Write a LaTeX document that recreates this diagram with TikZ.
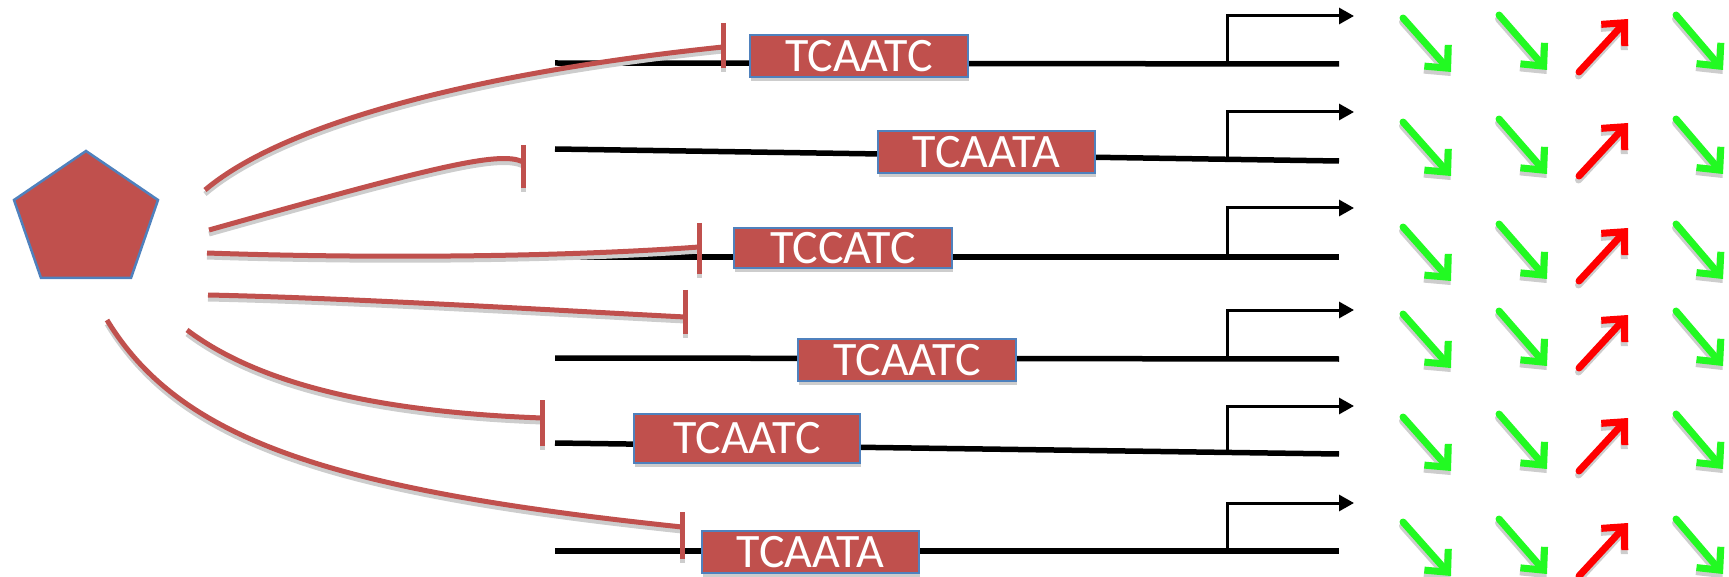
\documentclass[tikz,border=0pt]{standalone}
\usepackage{fontspec}
\newfontfamily\seqfont{Carlito}
\usetikzlibrary{arrows.meta,shadows,calc}

\definecolor{inhred}{RGB}{192,80,77}
\definecolor{edgeblue}{RGB}{79,129,189}
\definecolor{upred}{RGB}{255,0,0}
\definecolor{downgreen}{RGB}{34,250,34}
\definecolor{castgrey}{RGB}{205,205,205}

% one effect arrow: grey cast shadow first, then the coloured arrow
\newcommand\effectarrow[3]{%
  \draw[effect, castgrey, transform canvas={xshift=-0.5pt,yshift=-4pt}] #2 -- #3;
  \draw[effect, #1] #2 -- #3;}

\begin{document}
\begin{tikzpicture}[x=1pt,y=-1pt,
  dna/.style={line width=5.5pt, black},
  prom/.style={line width=3pt, black, -{Triangle[length=15pt,width=16pt]}},
  seqbox/.style={fill=inhred, draw=edgeblue, line width=2.2pt, text=white,
    font=\seqfont\fontsize{48}{52}\selectfont, inner sep=0pt, outer sep=0pt,
    minimum height=42pt, minimum width=218pt,
    drop shadow={shadow xshift=1pt, shadow yshift=-4pt, fill=castgrey, opacity=1}},
  inhib/.style={line width=5pt, inhred,
    preaction={draw=castgrey, line width=5pt, transform canvas={xshift=0pt,yshift=-4pt}}},
  effect/.style={line width=7pt, line cap=round,
    -{Straight Barb[length=17pt,width=32pt,line cap=butt]}}
]
\useasboundingbox (0,0) rectangle (1729,577);

% ---- regulator (pentagon) ----
\coordinate (reg) at (86,222);
\filldraw[fill=inhred, draw=edgeblue, line width=2.5pt, line join=miter]
  (86,151) -- (158,200) -- (131,278) -- (41,278) -- (14,200) -- cycle;

% ---- DNA strands: left end, right end, promoter foot, promoter tip ----
\foreach \i/\yl/\yr/\yp/\yt in {1/63/64/64/16, 2/149/161/159/112, 3/257/257/257/208,
                                  4/358/359/359/310, 5/443/454/452/406, 6/551/551/551/503}{
  \coordinate (L\i) at (555,\yl);
  \coordinate (R\i) at (1339,\yr);
  \coordinate (P\i) at (1227,\yp);
  \coordinate (A\i) at (1354,\yt);
  \draw[dna] (L\i) -- (R\i);
  \draw[prom] (P\i) |- (A\i);
}

% ---- repression curves from the regulator to each site ----
\coordinate (S1) at (205,190); \coordinate (E1) at (723,47);
\coordinate (S2) at (209,230); \coordinate (E2) at (523,162);
\coordinate (S3) at (207,253); \coordinate (E3) at (699,247);
\coordinate (S4) at (208,295); \coordinate (E4) at (685,317);
\coordinate (S5) at (187,330); \coordinate (E5) at (542,418);
\coordinate (S6) at (107,320); \coordinate (E6) at (682,527);

\draw[inhib] (S1) .. controls (290,118) and (500,70) .. (E1);
\draw[inhib] (S2) .. controls (430,168) and (500,150) .. (E2);
\draw[inhib] (S3) .. controls (350,258) and (550,258) .. (E3);
\draw[inhib] (S4) .. controls (350,298) and (550,310) .. (E4);
\draw[inhib] (S5) .. controls (260,385) and (380,412) .. (E5);
\draw[inhib] (S6) .. controls (180,440) and (330,490) .. (E6);

% blunt ends of the repression curves
\draw[inhib] ($(E1)+(0,-24)$) -- ($(E1)+(0,21)$);
\draw[inhib] ($(E2)+(0,-17)$) -- ($(E2)+(0,26)$);
\draw[inhib] ($(E3)+(0,-24)$) -- ($(E3)+(0,27)$);
\draw[inhib] ($(E4)+(0,-27)$) -- ($(E4)+(0,17)$);
\draw[inhib] ($(E5)+(0,-18)$) -- ($(E5)+(0,28)$);
\draw[inhib] ($(E6)+(0,-15)$) -- ($(E6)+(0,32)$);

% ---- binding sites ----
\node[seqbox] (b1) at (859,56) {TCAATC};
\node[seqbox, minimum width=217pt] (b2) at (986.5,152) {TCAATA};
\node[seqbox, minimum height=40pt] (b3) at (843,248) {TCCATC};
\node[seqbox] (b4) at (907,360) {TCAATC};
\node[seqbox, minimum width=226pt, minimum height=49pt] (b5) at (747,438.5) {TCAATC};
\node[seqbox, minimum width=217pt] (b6) at (810.5,552) {TCAATA};

% ---- expression changes: down, down, up, down ----
\foreach \d in {0,104,209,296,399,504}{
  \effectarrow{downgreen}{(1403,18+\d)}{(1451,72+\d)}
  \effectarrow{downgreen}{(1499,15+\d)}{(1547,70+\d)}
  \effectarrow{upred}{(1579,72+\d)}{(1628,19+\d)}
  \effectarrow{downgreen}{(1676,15+\d)}{(1723,70+\d)}
}
\end{tikzpicture}
\end{document}
